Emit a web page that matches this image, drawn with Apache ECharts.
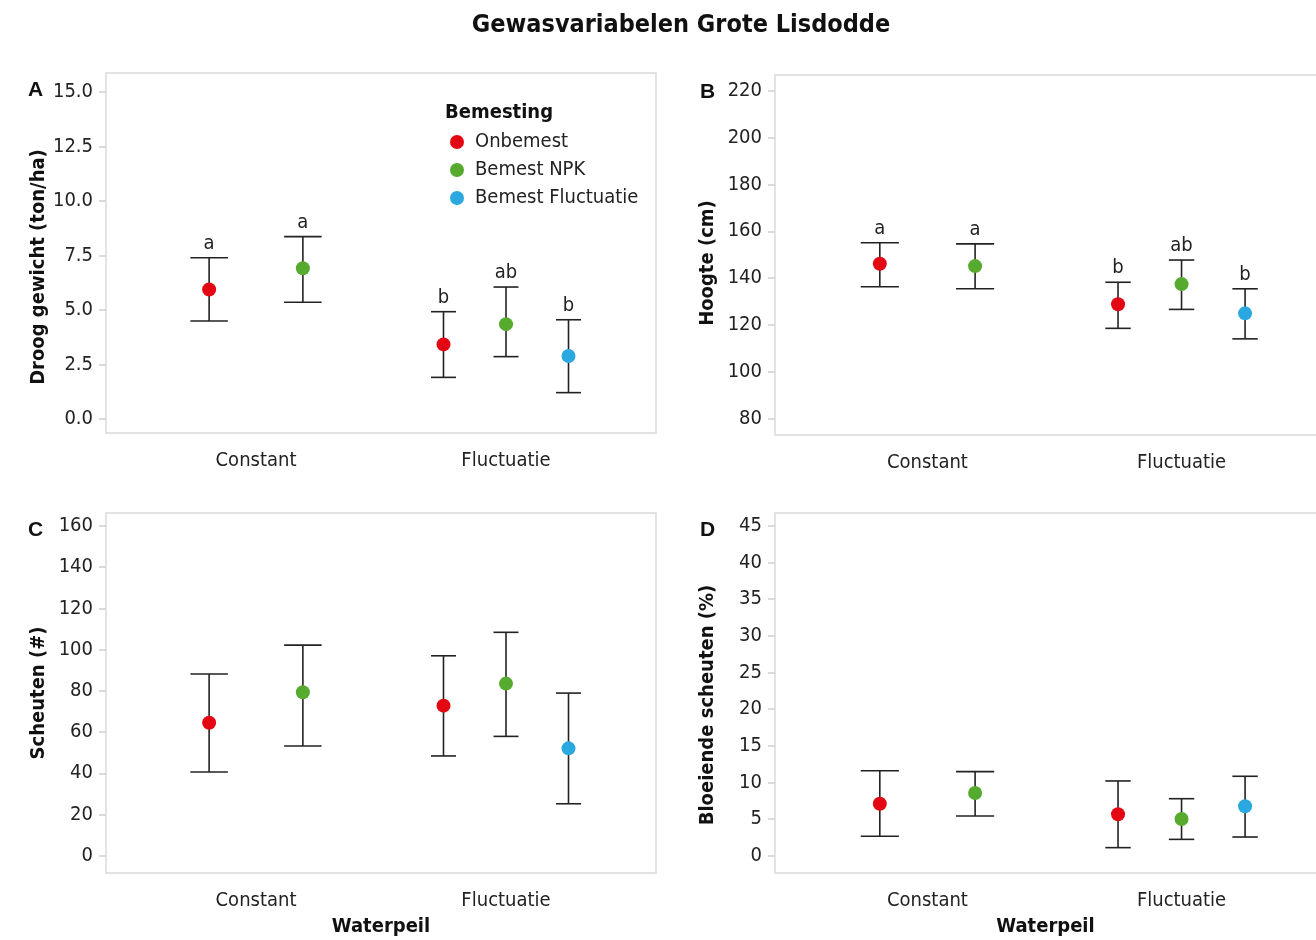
<!DOCTYPE html>
<html>
<head>
<meta charset="utf-8">
<title>Gewasvariabelen Grote Lisdodde</title>
<script src="https://cdn.jsdelivr.net/npm/echarts@6/dist/echarts.min.js"></script>
<style>
  html, body { margin: 0; padding: 0; background: #fff; }
  #chart { width: 1316px; height: 940px; }
</style>
</head>
<body>
<div id="chart"></div>
<script>
/* Gewasvariabelen Grote Lisdodde — 4 panels, mean +/- error bars per waterpeil x bemesting */
var categories = ['Constant', 'Fluctuatie'];
var groups = ['Onbemest', 'Bemest NPK', 'Bemest Fluctuatie'];
var groupColors = ['#e30613', '#56ab2f', '#2aa8e0'];

// rows = bemesting group, columns = waterpeil category (null = not in design)
var droogMean = [[5.94, 3.42], [6.91, 4.35], [null, 2.89]];
var droogLow = [[4.49, 1.91], [5.35, 2.86], [null, 1.21]];
var droogHigh = [[7.39, 4.92], [8.36, 6.05], [null, 4.55]];
var droogLetters = [['a', 'b'], ['a', 'ab'], [null, 'b']];
var droogTicks = [0, 2.5, 5, 7.5, 10, 12.5, 15];

var hoogteMean = [[146.1, 128.8], [145.1, 137.4], [null, 124.9]];
var hoogteLow = [[136.3, 118.5], [135.4, 126.6], [null, 114.0]];
var hoogteHigh = [[155.1, 138.2], [154.6, 147.7], [null, 135.4]];
var hoogteLetters = [['a', 'b'], ['a', 'ab'], [null, 'b']];
var hoogteTicks = [80, 100, 120, 140, 160, 180, 200, 220];

var scheutenMean = [[64.5, 72.8], [79.3, 83.5], [null, 52.1]];
var scheutenLow = [[40.6, 48.4], [53.2, 57.9], [null, 25.2]];
var scheutenHigh = [[88.2, 97.0], [102.2, 108.4], [null, 78.9]];
var scheutenTicks = [0, 20, 40, 60, 80, 100, 120, 140, 160];

var bloeiMean = [[7.1, 5.65], [8.56, 5.0], [null, 6.74]];
var bloeiLow = [[2.65, 1.1], [5.42, 2.23], [null, 2.55]];
var bloeiHigh = [[11.6, 10.2], [11.47, 7.78], [null, 10.84]];
var bloeiTicks = [0, 5, 10, 15, 20, 25, 30, 35, 40, 45];

var FONT = "'Liberation Sans Narrow', 'DejaVu Sans Condensed', 'Roboto', sans-serif";
var dodgeWidth = 0.75;
var capWidth = 0.3;
var xMin = 0.4, xSpan = 2.2;          // discrete axis with 0.6 expansion each side
var plotH = 360;

var panels = [
  { tag: 'A', yName: 'Droog gewicht (ton/ha)', mean: droogMean, low: droogLow, high: droogHigh, letters: droogLetters,
    ticks: droogTicks, yMin: -0.64, yMax: 15.86, dec: 1, left: 106, top: 73, w: 550, tagDx: 78, xName: '', shift: 28 },
  { tag: 'B', yName: 'Hoogte (cm)', mean: hoogteMean, low: hoogteLow, high: hoogteHigh, letters: hoogteLetters,
    ticks: hoogteTicks, yMin: 72.9, yMax: 226.8, dec: 0, left: 775, top: 75, w: 559, tagDx: 75, xName: '', shift: 16 },
  { tag: 'C', yName: 'Scheuten (#)', mean: scheutenMean, low: scheutenLow, high: scheutenHigh, letters: null,
    ticks: scheutenTicks, yMin: -8.4, yMax: 166.3, dec: 0, left: 106, top: 513, w: 550, tagDx: 78, xName: 'Waterpeil', shift: 0 },
  { tag: 'D', yName: 'Bloeiende scheuten (%)', mean: bloeiMean, low: bloeiLow, high: bloeiHigh, letters: null,
    ticks: bloeiTicks, yMin: -2.36, yMax: 46.77, dec: 0, left: 775, top: 513, w: 559, tagDx: 75, xName: 'Waterpeil', shift: 24 }
];

function dodge(mean, g, c) {
  var present = [];
  for (var i = 0; i < groups.length; i++) if (mean[i][c] != null) present.push(i);
  var n = present.length, rank = present.indexOf(g);
  return { x: c + 1 + dodgeWidth * ((rank + 0.5) / n - 0.5), w: capWidth / n };
}

var el = document.getElementById('chart');
var pageW = el.clientWidth;
var grids = [], xAxes = [], yAxes = [], series = [], graphics = [];

graphics.push({ type: 'text', x: 681, y: 25, style: { text: 'Gewasvariabelen Grote Lisdodde', font: 'bold 25px ' + FONT, fill: '#111', align: 'center', verticalAlign: 'middle' } });
graphics.push({ type: 'text', x: 445, y: 113, style: { text: 'Bemesting', font: 'bold 20px ' + FONT, fill: '#111', align: 'left', verticalAlign: 'middle' } });

panels.forEach(function (p, pi) {
  // the right-hand panels run past the page edge; keep the scale of a full-width panel
  var visW = Math.min(p.w, pageW - p.left);
  grids.push({ left: p.left, top: p.top, width: visW, height: plotH, show: false });
  graphics.push({ type: 'rect', z: -10, shape: { x: p.left, y: p.top, width: p.w, height: plotH },
    style: { fill: 'none', stroke: '#dadada', lineWidth: 1.5 } });
  graphics.push({ type: 'text', x: p.left - p.tagDx, y: p.top + 17, style: { text: p.tag, font: 'bold 21px "Liberation Sans", Arial, sans-serif', fill: '#111', align: 'left', verticalAlign: 'middle' } });

  xAxes.push({
    type: 'value', gridIndex: pi, min: xMin, max: xMin + xSpan * visW / p.w,
    axisLine: { show: false }, axisTick: { show: false }, splitLine: { show: false },
    axisLabel: { customValues: [1, 2], formatter: function (v) { return categories[Math.round(v) - 1]; },
      fontFamily: FONT, fontSize: 20, color: '#222', margin: 18 },
    name: p.xName, nameLocation: 'middle', nameGap: 44,
    nameTextStyle: { fontFamily: FONT, fontSize: 20, fontWeight: 'bold', color: '#111' }
  });

  yAxes.push({
    type: 'value', gridIndex: pi, min: p.yMin, max: p.yMax,
    axisLine: { show: false }, splitLine: { show: false },
    axisTick: { show: true, customValues: p.ticks, length: 7, lineStyle: { color: '#cfcfcf', width: 1.5 } },
    axisLabel: { customValues: p.ticks, formatter: function (v) { return v.toFixed(p.dec); },
      fontFamily: FONT, fontSize: 20, color: '#222', margin: 13 },
    name: p.yName, nameLocation: 'middle', nameGap: 57,
    nameTextStyle: { fontFamily: FONT, fontSize: 20, fontWeight: 'bold', color: '#111', padding: [0, p.shift, 0, 0] }
  });

  groups.forEach(function (gName, g) {
    var bars = [], pts = [], labs = [];
    categories.forEach(function (cName, c) {
      if (p.mean[g][c] == null) return;
      var d = dodge(p.mean, g, c);
      bars.push([d.x, p.low[g][c], p.high[g][c], d.w]);
      labs.push(p.letters ? p.letters[g][c] : '');
      pts.push([d.x, p.mean[g][c]]);
    });

    series.push({
      type: 'custom', name: gName, xAxisIndex: pi, yAxisIndex: pi, data: bars, z: 2,
      renderItem: function (params, api) {
        var x = api.value(0);
        var lo = api.coord([x, api.value(1)]);
        var hi = api.coord([x, api.value(2)]);
        var half = api.size([api.value(3), 0])[0] / 2;
        var ls = { stroke: '#222', lineWidth: 1.6 };
        var kids = [
          { type: 'line', shape: { x1: lo[0], y1: lo[1], x2: hi[0], y2: hi[1] }, style: ls },
          { type: 'line', shape: { x1: hi[0] - half, y1: hi[1], x2: hi[0] + half, y2: hi[1] }, style: ls },
          { type: 'line', shape: { x1: lo[0] - half, y1: lo[1], x2: lo[0] + half, y2: lo[1] }, style: ls }
        ];
        var t = labs[params.dataIndex];
        if (t) kids.push({ type: 'text', x: hi[0], y: hi[1] - 4,
          style: { text: t, font: '20px ' + FONT, fill: '#222', align: 'center', verticalAlign: 'bottom' } });
        return { type: 'group', children: kids };
      },
      encode: { x: 0, y: [1, 2] },
      silent: true
    });

    series.push({
      type: 'scatter', name: gName, xAxisIndex: pi, yAxisIndex: pi, data: pts, z: 3,
      symbol: 'circle', symbolSize: 14, itemStyle: { color: groupColors[g], opacity: 1 }
    });
  });
});

var chart = echarts.init(el, null, { renderer: 'canvas' });
chart.setOption({
  animation: false,
  color: groupColors,
  grid: grids,
  xAxis: xAxes,
  yAxis: yAxes,
  legend: {
    data: groups.map(function (n, i) { return { name: n, icon: 'circle', itemStyle: { color: groupColors[i] } }; }),
    orient: 'vertical', left: 445, top: 127, itemWidth: 14, itemHeight: 14, itemGap: 8,
    textStyle: { fontFamily: FONT, fontSize: 20, color: '#222', padding: [0, 0, 0, 6] }
  },
  graphic: graphics,
  series: series
});
window.addEventListener('resize', function () { chart.resize(); });
</script>
</body>
</html>
